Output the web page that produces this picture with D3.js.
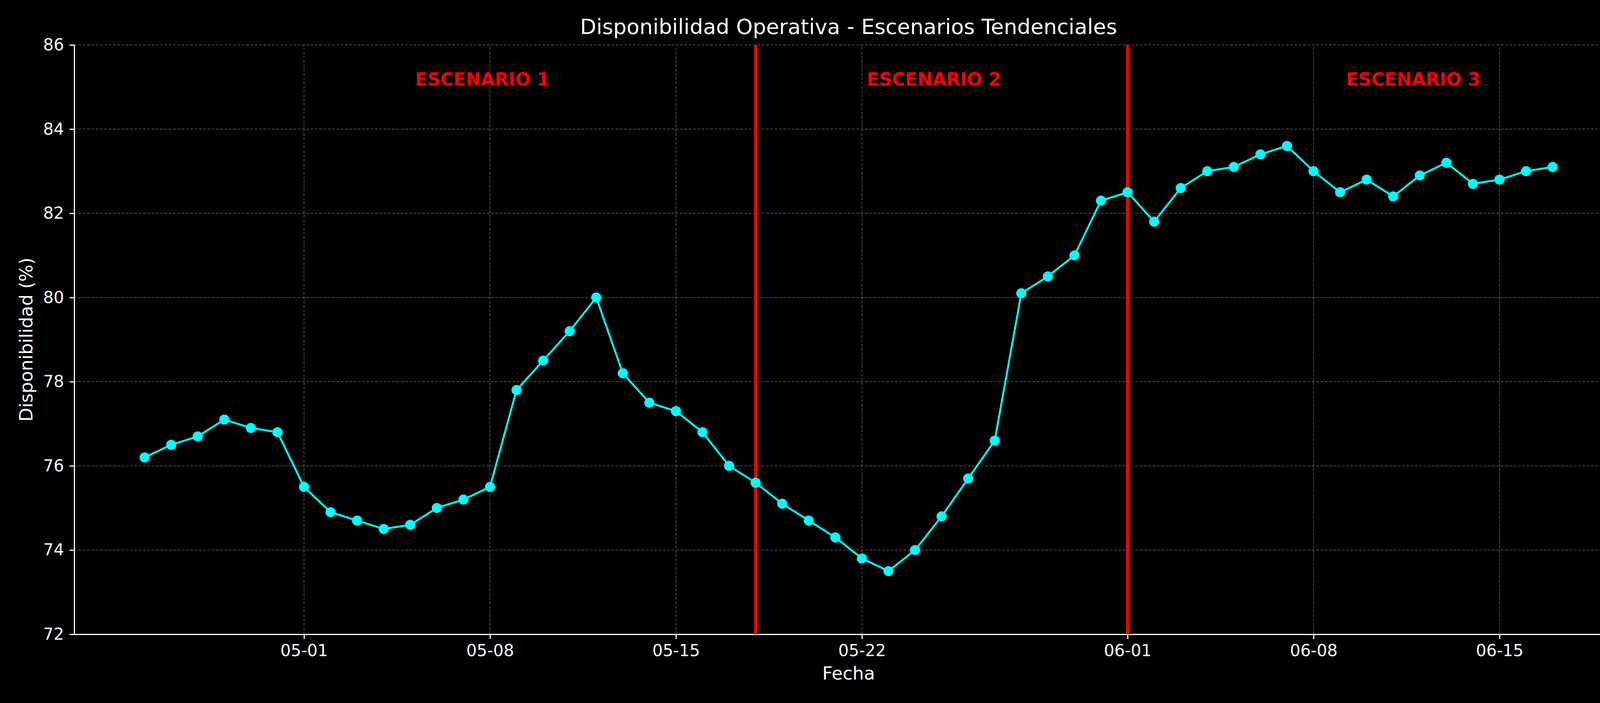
<!DOCTYPE html>
<html><head><meta charset="utf-8">
<script src="https://cdn.jsdelivr.net/npm/d3@7"></script>
<style>body{margin:0;background:#000}svg{display:block}</style>
</head><body>
<script>
const dates = d3.timeDay.range(new Date(2024, 3, 25), new Date(2024, 5, 18));
const values = [76.2,76.5,76.7,77.1,76.9,76.8,
  75.5,74.9,74.7,74.5,74.6,75.0,75.2,75.5,77.8,78.5,79.2,80.0,78.2,77.5,77.3,76.8,76.0,75.6,75.1,74.7,74.3,73.8,73.5,74.0,74.8,75.7,76.6,80.1,80.5,81.0,82.3,
  82.5,81.8,82.6,83.0,83.1,83.4,83.6,83.0,82.5,82.8,82.4,82.9,83.2,82.7,82.8,83.0,83.1];
const splitDates = [new Date(2024, 4, 18), new Date(2024, 5, 1)];
const scenarioLabels = ["ESCENARIO 1", "ESCENARIO 2", "ESCENARIO 3"];
const scenarioX = [new Date(2024, 4, 7, 17), new Date(2024, 4, 24, 17), new Date(2024, 5, 11, 18)];
const xTicks = [new Date(2024,4,1), new Date(2024,4,8), new Date(2024,4,15), new Date(2024,4,22), new Date(2024,5,1), new Date(2024,5,8), new Date(2024,5,15)];
const yTicks = [72,74,76,78,80,82,84,86];

const W = 4200, H = 1800;
const margin = {top: 115, right: 45, bottom: 176, left: 190};
const svg = d3.select("body").append("svg").attr("width", W).attr("height", H)
  .style("font-family", "'DejaVu Sans', sans-serif");
svg.append("rect").attr("width", W).attr("height", H).attr("fill", "#000");

const pad = 2.65 * 864e5;
const x = d3.scaleTime()
  .domain([+dates[0] - pad, +dates[dates.length - 1] + pad])
  .range([margin.left, W - margin.right]);
const y = d3.scaleLinear().domain([72, 86]).range([H - margin.bottom, margin.top]);

// grid
const grid = svg.append("g").attr("stroke", "#888").attr("stroke-opacity", 0.6)
  .attr("stroke-width", 2).attr("stroke-dasharray", "7,4");
grid.selectAll(".gx").data(xTicks).join("line")
  .attr("x1", d => x(d)).attr("x2", d => x(d)).attr("y1", y(72)).attr("y2", y(86));
grid.selectAll(".gy").data(yTicks).join("line")
  .attr("x1", margin.left).attr("x2", W - margin.right).attr("y1", d => y(d)).attr("y2", d => y(d));

// axes
const gx = svg.append("g").attr("transform", `translate(0,${H - margin.bottom})`)
  .call(d3.axisBottom(x).tickValues(xTicks).tickFormat(d3.timeFormat("%m-%d")).tickSize(12).tickSizeOuter(0).tickPadding(14));
const gy = svg.append("g").attr("transform", `translate(${margin.left},0)`)
  .call(d3.axisLeft(y).tickValues(yTicks).tickSize(12).tickSizeOuter(0).tickPadding(14));
[gx, gy].forEach(g => {
  g.selectAll("path,line").attr("stroke", "#fff").attr("stroke-width", 3);
  g.selectAll("text").attr("fill", "#fff").attr("font-size", 42).attr("font-family", "'DejaVu Sans', sans-serif");
});

// split lines
svg.selectAll(".split").data(splitDates).join("line")
  .attr("x1", d => x(d)).attr("x2", d => x(d)).attr("y1", y(72)).attr("y2", y(86))
  .attr("stroke", "#ff0000").attr("stroke-width", 8);

// series
const pts = dates.map((d, i) => [d, values[i]]);
svg.append("path").datum(pts)
  .attr("d", d3.line().x(d => x(d[0])).y(d => y(d[1])))
  .attr("fill", "none").attr("stroke", "#00ffff").attr("stroke-width", 5);
svg.append("g").selectAll("circle").data(pts).join("circle")
  .attr("cx", d => x(d[0])).attr("cy", d => y(d[1])).attr("r", 13).attr("fill", "#00ffff");

// scenario labels
svg.selectAll(".lbl").data(scenarioLabels).join("text")
  .attr("x", (d, i) => x(scenarioX[i])).attr("y", y(85.15))
  .attr("text-anchor", "middle").attr("dominant-baseline", "middle")
  .attr("fill", "#ff0000").attr("font-weight", "bold").attr("font-size", 46).text(d => d);

// titles
svg.append("text").attr("x", (margin.left + W - margin.right) / 2).attr("y", 72)
  .attr("text-anchor", "middle").attr("dominant-baseline", "middle")
  .attr("fill", "#fff").attr("font-size", 54).text("Disponibilidad Operativa - Escenarios Tendenciales");
svg.append("text").attr("x", (margin.left + W - margin.right) / 2).attr("y", 1727)
  .attr("text-anchor", "middle").attr("dominant-baseline", "middle")
  .attr("fill", "#fff").attr("font-size", 46).text("Fecha");
svg.append("text").attr("transform", `translate(70,${(margin.top + H - margin.bottom) / 2}) rotate(-90)`)
  .attr("text-anchor", "middle").attr("dominant-baseline", "middle")
  .attr("fill", "#fff").attr("font-size", 46).text("Disponibilidad (%)");
</script>
</body></html>
